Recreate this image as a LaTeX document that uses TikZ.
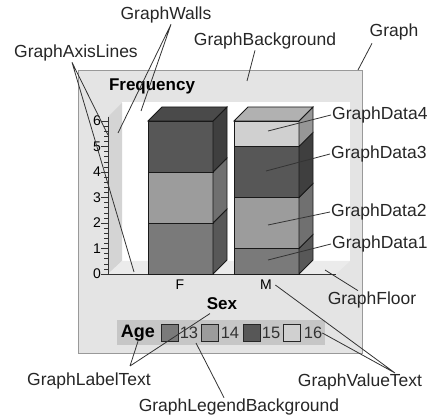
\documentclass[tikz,border=0pt]{standalone}
\usepackage{fontspec}
\setmainfont{Liberation Sans}
\definecolor{panel}{HTML}{E4E4E4}
\definecolor{sidewall}{HTML}{D4D4D4}
\definecolor{floorc}{HTML}{EBEBEB}
\definecolor{legbgc}{HTML}{C6C6C6}
\definecolor{agea}{HTML}{7A7A7A}
\definecolor{ageb}{HTML}{9C9C9C}
\definecolor{agec}{HTML}{575757}
\definecolor{aged}{HTML}{D0D0D0}
\tikzset{
  callout/.style={font=\fontsize{17.5}{20}\selectfont, text=black!85, inner sep=1pt},
  leader/.style={draw=black!80, line width=0.8pt},
  ticklab/.style={font=\fontsize{14}{16}\selectfont, inner sep=0pt, anchor=east},
  swatch/.style={draw=black!85, line width=0.9pt, minimum size=17pt, inner sep=0pt},
  legtext/.style={font=\fontsize{16.5}{18}\selectfont, text=black!80, inner sep=0pt},
  barline/.style={draw=black!90, line width=0.8pt},
  heading/.style={font=\fontsize{17}{19}\selectfont\bfseries},
}
% one stacked segment of a 3D bar: left x, from value, to value, colour
\newcommand\barseg[4]{
  \filldraw[barline, fill=#4] (#1,{274-25.5*#2}) rectangle ({#1+65},{274-25.5*#3});
  \filldraw[barline, fill=#4!72!black] ({#1+65},{274-25.5*#2}) -- ++(14,-14)
    -- ({#1+79},{260-25.5*#3}) -- ({#1+65},{274-25.5*#3}) -- cycle;
}
\newcommand\bartop[3]{
  \filldraw[barline, fill=#3!85!black] (#1,{274-25.5*#2}) -- ++(14,-14) -- ++(65,0)
    -- ++(-14,14) -- cycle;
}
\begin{document}
\begin{tikzpicture}[x=1pt, y=-1pt]
  \useasboundingbox (0,0) rectangle (431,419);
  % panel, walls and floor
  \filldraw[fill=panel, draw=black!40, line width=0.9pt] (78,70) rectangle (362,353);
  \fill[white] (122,102) rectangle (350,261);
  \fill[sidewall] (108,117) -- (122,103) -- (122,261) -- (108,274) -- cycle;
  \fill[floorc] (108,274) -- (122,261) -- (350,261) -- (336,274) -- cycle;
  % axes
  \draw[black!80, line width=0.8pt] (108,117) -- (108,274) -- (336,274);
  \foreach \t in {0,...,30}
    \draw[black!80] (104,{274-5.1*\t}) -- (108,{274-5.1*\t});
  \foreach \v in {0,...,6} {
    \draw[black!80] (101,{274-25.5*\v}) -- (108,{274-25.5*\v});
    \node[ticklab] (y\v) at (101,{274-25.5*\v}) {\v};
  }
  % F bar
  \barseg{148}{0}{2}{agea}
  \barseg{148}{2}{4}{ageb}
  \barseg{148}{4}{6}{agec}
  \bartop{148}{6}{agec}
  % M bar
  \barseg{234}{0}{1}{agea}
  \barseg{234}{1}{3}{ageb}
  \barseg{234}{3}{5}{agec}
  \barseg{234}{5}{6}{aged}
  \bartop{234}{6}{aged}
  % titles and values
  \node[heading] (freq) at (152,86) {Frequency};
  \node[font=\fontsize{14}{16}\selectfont] (f) at (180,285) {F};
  \node[font=\fontsize{14}{16}\selectfont] (m) at (266,285) {M};
  \node[heading] (sex) at (222,304) {Sex};
  % legend
  \fill[legbgc] (117,320) rectangle (325,345);
  \node[font=\fontsize{18}{20}\selectfont\bfseries, inner sep=0pt] (age) at (138,333) {Age};
  \node[swatch, fill=agea] (s13) at (170,333) {};
  \node[legtext] (l13) at (189,333) {13};
  \node[swatch, fill=ageb] (s14) at (210,333) {};
  \node[legtext] (l14) at (230,333) {14};
  \node[swatch, fill=agec] (s15) at (252,333) {};
  \node[legtext] (l15) at (271,333) {15};
  \node[swatch, fill=aged] (s16) at (292,333) {};
  \node[legtext] (l16) at (313,333) {16};
  % callouts
  \node[callout] (walls) at (166,15) {GraphWalls};
  \node[callout] (axl) at (76,53) {GraphAxisLines};
  \node[callout] (bg) at (265,41) {GraphBackground};
  \node[callout] (graph) at (394,32) {Graph};
  \node[callout, anchor=west] (d4) at (331,115) {GraphData4};
  \node[callout, anchor=west] (d3) at (330,154) {GraphData3};
  \node[callout, anchor=west] (d2) at (330,212) {GraphData2};
  \node[callout, anchor=west] (d1) at (331,244) {GraphData1};
  \node[callout] (floor) at (372,300) {GraphFloor};
  \node[callout] (vtext) at (360,382) {GraphValueText};
  \node[callout] (legbg) at (239,407) {GraphLegendBackground};
  \node[callout] (ltext) at (89,381) {GraphLabelText};
  \coordinate (wl1) at (118,133);
  \coordinate (wl2) at (141,111);
  \coordinate (ax1) at (108,135);
  \coordinate (ax2) at (134,272);
  \coordinate (bgp) at (247,81);
  \coordinate (gp) at (358,70);
  \coordinate (p4) at (268,131);
  \coordinate (p3) at (266,171);
  \coordinate (p2) at (268,225);
  \coordinate (p1) at (268,260);
  \coordinate (fp) at (325,270);
  \coordinate (lbp) at (196,343);
  \coordinate (lt) at (130,366);
  \coordinate (vt) at (395,373);
  \draw[leader] ([xshift=5pt]walls.south) -- (wl1)
                ([xshift=5pt]walls.south) -- (wl2)
                ([xshift=-4pt]axl.south) -- (ax1)
                ([xshift=-4pt]axl.south) -- (ax2)
                ([xshift=-10pt]bg.south) -- (bgp)
                ([xshift=-22pt,yshift=-2pt]graph.south) -- (gp)
                (d4.west) -- (p4)
                (d3.west) -- (p3)
                (d2.west) -- (p2)
                (d1.west) -- (p1)
                ([xshift=-14pt]floor.north) -- (fp)
                ([xshift=-15pt]legbg.north) -- (lbp)
                (lt) -- (age.south)
                (lt) -- ([xshift=-12pt]sex.south)
                (vt) -- (m.east)
                (vt) -- (l16.east);
\end{tikzpicture}
\end{document}
